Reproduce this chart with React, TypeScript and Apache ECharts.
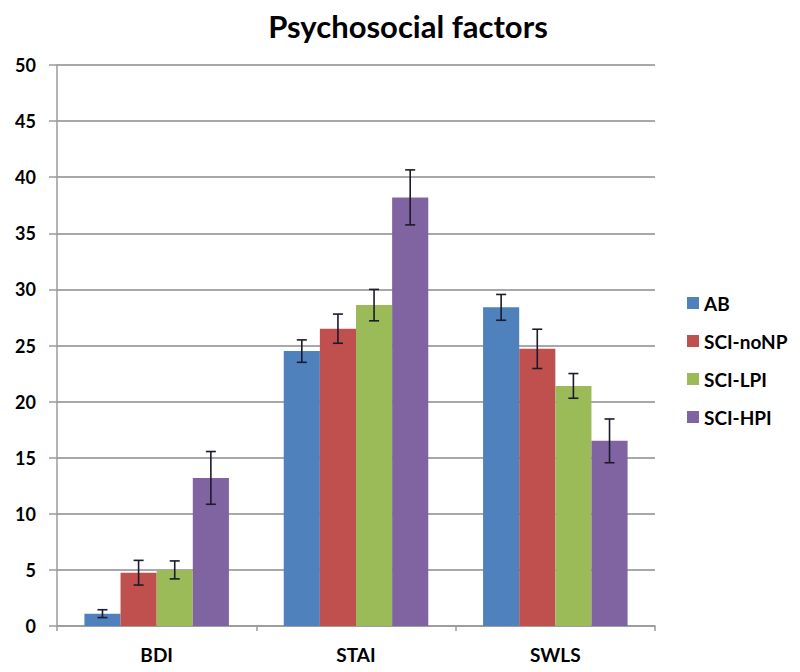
import React, { useEffect, useRef } from "react";
import * as echarts from "echarts";

const categories = ["BDI", "STAI", "SWLS"];
const seriesNames = ["AB", "SCI-noNP", "SCI-LPI", "SCI-HPI"];
const colors = ["#4F81BD", "#C0504D", "#9BBB59", "#8064A2"];
const abValues = [1.1, 24.5, 28.4];
const noNPValues = [4.75, 26.5, 24.7];
const lpiValues = [5.0, 28.6, 21.4];
const hpiValues = [13.2, 38.2, 16.5];
const abErr = [0.35, 1.0, 1.15];
const noNPErr = [1.1, 1.3, 1.75];
const lpiErr = [0.8, 1.4, 1.1];
const hpiErr = [2.35, 2.45, 1.95];

const values = [abValues, noNPValues, lpiValues, hpiValues];
const errors = [abErr, noNPErr, lpiErr, hpiErr];
const CAT_GAP = 0.275;

export default function App() {
  const ref = useRef<HTMLDivElement>(null);
  useEffect(() => {
    document.body.style.margin = "0";
    const chart = echarts.init(ref.current!, undefined, { renderer: "svg" });
    const font = "Lato, 'Open Sans', sans-serif";
    const barSeries = seriesNames.map((name, i) => ({
      type: "bar",
      name,
      data: values[i],
      itemStyle: { color: colors[i] },
      barGap: "0%",
      barCategoryGap: CAT_GAP * 100 + "%",
    }));
    const errSeries = seriesNames.map((name, i) => ({
      type: "custom",
      name: name + "-err",
      data: values[i].map((v, j) => [j, v, errors[i][j]]),
      z: 10,
      renderItem: (params: any, api: any) => {
        const cat = api.value(0);
        const v = api.value(1);
        const e = api.value(2);
        const bandW = api.size([1, 0])[0];
        const bw = (bandW * (1 - CAT_GAP)) / 4;
        const c = api.coord([cat, v]);
        const x = c[0] + (i - 1.5) * bw;
        const top = api.coord([cat, v + e])[1];
        const bot = api.coord([cat, v - e])[1];
        const cap = 5;
        const style = { stroke: "#1b1b2a", lineWidth: 1.6 };
        return {
          type: "group",
          children: [
            { type: "line", shape: { x1: x, y1: top, x2: x, y2: bot }, style },
            { type: "line", shape: { x1: x - cap, y1: top, x2: x + cap, y2: top }, style },
            { type: "line", shape: { x1: x - cap, y1: bot, x2: x + cap, y2: bot }, style },
          ],
        };
      },
    }));
    chart.setOption({
      animation: false,
      backgroundColor: "#ffffff",
      title: {
        text: "Psychosocial factors",
        left: 403,
        textAlign: "center",
        top: 5,
        textStyle: { fontFamily: font, fontWeight: "bold", fontSize: 31, color: "#000" },
      },
      legend: {
        data: seriesNames,
        orient: "vertical",
        left: 682,
        top: 288,
        itemWidth: 12,
        itemHeight: 12,
        itemGap: 18,
        icon: "rect",
        textStyle: { fontFamily: font, fontWeight: "bold", fontSize: 19, lineHeight: 20, color: "#000", padding: [0, 0, 0, 0] },
      },
      grid: { left: 57, right: 145, top: 65, bottom: 46 },
      xAxis: {
        type: "category",
        data: categories,
        axisLine: { lineStyle: { color: "#9a9a9a", width: 1.5 } },
        axisTick: { show: true, length: 5, lineStyle: { color: "#9a9a9a", width: 1.5 } },
        axisLabel: { fontFamily: font, fontWeight: "bold", fontSize: 19, color: "#000", margin: 19 },
      },
      yAxis: {
        type: "value",
        min: 0,
        max: 50,
        interval: 5,
        axisLine: { show: true, lineStyle: { color: "#9a9a9a", width: 1.5 } },
        axisTick: { show: true, length: 8, lineStyle: { color: "#9a9a9a", width: 1.5 } },
        splitLine: { lineStyle: { color: "#a8a8a8", width: 2 } },
        axisLabel: { fontFamily: font, fontWeight: "bold", fontSize: 18, color: "#000", margin: 21 },
      },
      series: [...barSeries, ...errSeries],
    });
    return () => chart.dispose();
  }, []);
  return <div ref={ref} style={{ width: 800, height: 672 }} />;
}
